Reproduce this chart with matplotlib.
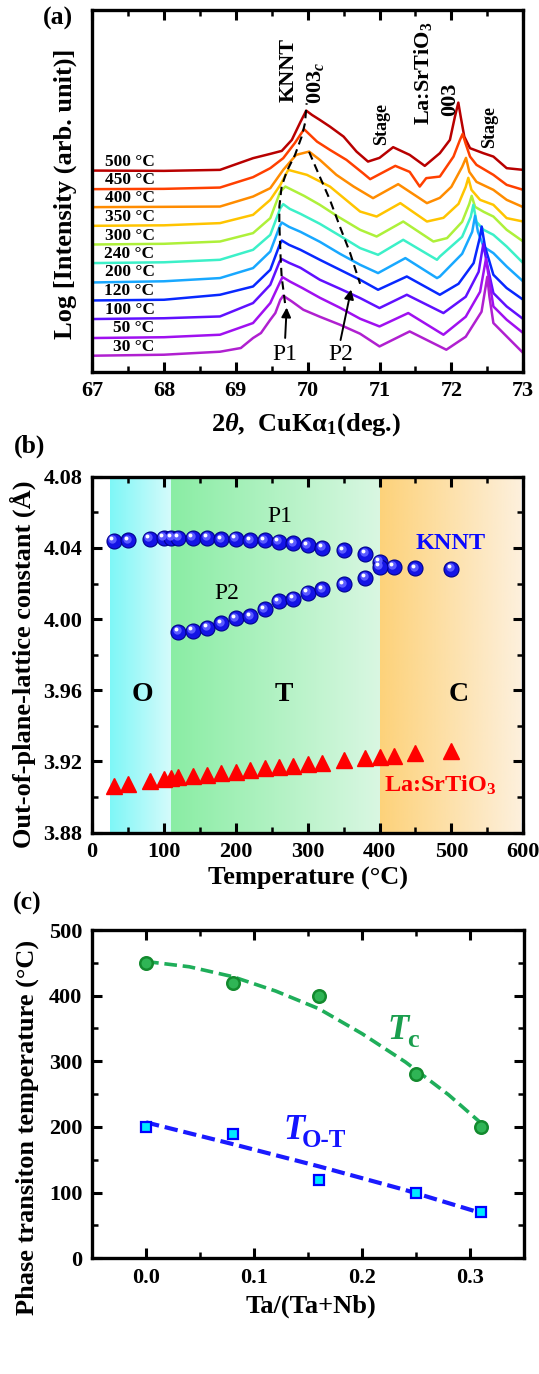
import numpy as np
import matplotlib
matplotlib.use('Agg')
import matplotlib.pyplot as plt
from matplotlib.colors import LinearSegmentedColormap
from matplotlib.transforms import offset_copy
from matplotlib.ticker import MultipleLocator

plt.rcParams['font.family'] = ['Liberation Serif', 'DejaVu Serif']
plt.rcParams['font.weight'] = 'bold'
plt.rcParams['axes.labelweight'] = 'bold'
plt.rcParams['mathtext.fontset'] = 'custom'
plt.rcParams['mathtext.rm'] = 'Liberation Serif:bold'
plt.rcParams['mathtext.it'] = 'Liberation Serif:italic:bold'
plt.rcParams['mathtext.bf'] = 'Liberation Serif:bold'

# ---------------- (a) XRD scans ----------------
temps_a = ['500 °C', '450 °C', '400 °C', '350 °C', '300 °C', '240 °C',
           '200 °C', '120 °C', '100 °C', '50 °C', '30 °C']
colors_a = ['#b80000', '#ff4000', '#ff8c00', '#ffc400', '#aef03a', '#3cf0c8',
            '#18a8ff', '#0828ff', '#6010ff', '#a010f0', '#b020d0']

tth_500 = [67.0, 68.0, 68.78, 69.24, 69.48, 69.64, 69.78, 69.9, 69.98, 70.06, 70.17, 70.31, 70.5, 70.68, 70.84,
           71.0, 71.19, 71.42, 71.63, 71.84, 71.98, 72.05, 72.097, 72.13, 72.18, 72.26, 72.445, 72.585, 72.77, 73.0]
int_500 = [201.3, 201, 202, 213.7, 218, 221, 232, 250, 261.3, 257, 252, 245.3, 235.3, 220.3, 210.3,
           214, 224.7, 217, 206, 218.7, 232, 255.3, 269.3, 255.3, 235.3, 223.7, 218.7, 215.3, 203.7, 202]

tth_450 = [67.0, 68.0, 68.78, 69.24, 69.48, 69.66, 69.82, 69.95, 70.13, 70.31, 70.54, 70.77, 70.87,
           71.22, 71.42, 71.56, 71.65, 71.84, 72.03, 72.12, 72.157, 72.2, 72.26, 72.35, 72.585, 72.77, 73.0]
int_450 = [182.7, 183, 184.3, 194.7, 203.7, 213.7, 228.7, 242.7, 230.3, 222, 212, 198.7, 192.7,
           206, 200, 185.3, 193.7, 195.3, 215.3, 232, 238, 228, 215.3, 207, 197, 187, 182]

tth_400 = [67.0, 68.0, 68.78, 69.24, 69.48, 69.66, 69.84, 70.02, 70.17, 70.4, 70.64, 70.91,
           71.26, 71.66, 71.84, 72.0, 72.15, 72.204, 72.25, 72.35, 72.585, 72.77, 73.0]
int_400 = [164.7, 165, 165.3, 175.3, 183.7, 202, 217, 220.3, 212, 197, 185.3, 173.7,
           187.7, 168.7, 174, 185, 205, 214, 200, 190, 182, 172, 164.7]

tth_350 = [67.0, 68.0, 68.78, 69.24, 69.48, 69.62, 69.73, 69.99, 70.31, 70.73, 70.96,
           71.29, 71.66, 71.89, 72.1, 72.2, 72.236, 72.28, 72.4, 72.585, 72.77, 73.0]
int_350 = [146, 146.5, 148.7, 157, 172, 187, 202, 197, 185.3, 160.3, 155.3,
           168.7, 150.3, 154, 168, 185, 194, 182, 172, 167, 153.7, 150.3]

tth_300 = [67.0, 68.0, 68.78, 69.24, 69.48, 69.62, 69.69, 69.95, 70.17, 70.42, 70.73, 70.96,
           71.33, 71.75, 71.94, 72.15, 72.25, 72.283, 72.33, 72.45, 72.585, 72.77, 73.0]
int_300 = [127.3, 128, 130.3, 138.7, 153.7, 180.3, 185.3, 176, 167, 155.3, 142, 135.3,
           150.3, 130.3, 133.7, 150, 168, 176, 165, 160, 155.3, 142, 130.3]

tth_240 = [67.0, 68.0, 68.78, 69.24, 69.48, 69.62, 69.66, 69.75, 69.9, 70.17, 70.45, 70.73, 70.98,
           71.33, 71.8, 71.84, 72.15, 72.27, 72.306, 72.35, 72.45, 72.585, 72.77, 73.0]
int_240 = [108.7, 109.5, 112, 122, 137, 163.7, 167.7, 163, 158, 148, 136, 123.7, 117,
           132, 112, 115.3, 135, 155, 167, 150, 142, 137, 125.3, 108.7]

tth_200 = [67.0, 68.0, 68.78, 69.24, 69.48, 69.61, 69.64, 69.74, 69.9, 70.17, 70.45, 70.73, 70.98,
           71.36, 71.8, 71.84, 72.15, 72.29, 72.33, 72.37, 72.45, 72.585, 72.77, 73.0]
int_200 = [89.3, 90.5, 93.7, 103.7, 120.3, 145.3, 149.3, 145, 140, 130, 118, 107, 98.7,
           113.7, 93.7, 95.3, 118, 140, 156, 140, 125, 118.7, 105.3, 90.3]

tth_120 = [67.0, 68.0, 68.78, 69.24, 69.48, 69.61, 69.64, 69.74, 69.9, 70.17, 70.45, 70.73, 70.98,
           71.38, 71.84, 72.1, 72.31, 72.4, 72.422, 72.468, 72.585, 72.77, 73.0]
int_120 = [71.3, 72, 77, 85.3, 102, 127, 131.3, 127, 122, 112, 102, 92, 82,
           95.3, 77, 88, 108.7, 135.3, 145.3, 125.3, 97, 83.7, 72]

tth_100 = [67.0, 68.0, 68.78, 69.24, 69.48, 69.61, 69.64, 69.74, 69.9, 70.17, 70.45, 70.73, 71.0,
           71.38, 71.89, 72.2, 72.38, 72.445, 72.49, 72.585, 72.77, 73.0]
int_100 = [52.7, 53.5, 55.3, 68.7, 87, 110.3, 112.7, 109, 104, 92, 83, 73.7, 63.7,
           77, 58.7, 75, 100, 128, 110, 78.7, 65.3, 52.7]

tth_50 = [67.0, 68.0, 68.78, 69.24, 69.48, 69.62, 69.65, 69.76, 69.92, 70.17, 70.45, 70.73, 71.0,
          71.4, 71.89, 72.2, 72.4, 72.482, 72.52, 72.585, 72.77, 73.0]
int_50 = [33.7, 34.5, 37, 48.7, 68.7, 90.3, 94.7, 90, 84, 74, 64, 53, 45.3,
          58.7, 37, 55, 80, 113, 95, 65.3, 52, 38.7]

tth_30 = [67.0, 68.0, 68.78, 69.07, 69.24, 69.35, 69.48, 69.55, 69.62, 69.66, 69.78, 69.94, 70.17, 70.45,
          70.73, 71.0, 71.42, 71.93, 72.2, 72.42, 72.5, 72.53, 72.585, 72.77, 73.0]
int_30 = [16, 17, 20, 23.7, 33.7, 38.7, 52, 58.7, 72, 76, 70.3, 62, 55, 47,
          38, 25.3, 40.3, 22, 35, 60, 95, 75, 48.7, 35.3, 18.7]

scans_tth = [tth_500, tth_450, tth_400, tth_350, tth_300, tth_240,
             tth_200, tth_120, tth_100, tth_50, tth_30]
scans_int = [int_500, int_450, int_400, int_350, int_300, int_240,
             int_200, int_120, int_100, int_50, int_30]
label_int = [209.7, 192, 173.7, 154.7, 136.3, 118, 99.3, 80.3, 62, 43.7, 24.7]

# dashed guides through P1 and P2
p1_tth = [69.685, 69.638, 69.624, 69.615, 69.606, 69.606, 69.638, 69.708, 69.824, 69.917, 69.963, 69.986]
p1_int = [68.7, 95.3, 113.7, 130.3, 148.7, 165.3, 185.3, 200.3, 217, 235.3, 248.7, 268.7]
p2_tth = [70.02, 70.17, 70.31, 70.45, 70.59, 70.73]
p2_int = [220, 195, 172, 145, 119, 88]

# ---------------- (b) lattice constants ----------------
temp_p1 = [30, 50, 80, 100, 110, 120, 140, 160, 180, 200, 220, 240, 260, 280, 300, 320,
           350, 380, 400, 420, 450, 500]
knnt_p1 = [4.0441, 4.0444, 4.0452, 4.0456, 4.0457, 4.0457, 4.0456, 4.0457, 4.0450, 4.0452,
           4.0444, 4.0444, 4.0435, 4.0426, 4.0416, 4.0401, 4.0386, 4.0368, 4.0321, 4.0295,
           4.0287, 4.0283]
temp_p2 = [120, 140, 160, 180, 200, 220, 240, 260, 280, 300, 320, 350, 380, 400]
knnt_p2 = [3.9928, 3.9935, 3.9950, 3.9976, 4.0006, 4.0017, 4.0055, 4.0100, 4.0115, 4.0148,
           4.0167, 4.0197, 4.0231, 4.0295]
temp_sto = temp_p1
sto = [3.9062, 3.9072, 3.9092, 3.9104, 3.9107, 3.9111, 3.9119, 3.9126, 3.9134, 3.9143,
       3.9152, 3.9162, 3.9171, 3.9177, 3.9186, 3.9193, 3.9208, 3.9222, 3.9227, 3.9233,
       3.9246, 3.9259]
phase_bounds = [25, 110, 400, 595]

# ---------------- (c) transition temperatures ----------------
ta_ratio = [0.0, 0.08, 0.16, 0.25, 0.31]
t_c = [450, 420, 400, 280, 200]
t_ot = [200, 190, 120, 100, 70]
tc_fit_x = [0.0, 0.04, 0.08, 0.12, 0.16, 0.20, 0.24, 0.28, 0.31]
tc_fit_y = [452, 444, 429, 407, 380, 342, 299, 249, 206]
tot_fit_x = [0.0, 0.08, 0.16, 0.24, 0.31]
tot_fit_y = [207, 174, 140, 104, 69]

FS = 16      # tick labels
LFS = 19     # axis labels
W, H = 539, 1374
fig = plt.figure(figsize=(W / 100, H / 100), dpi=100)


def add_axes(left, top, right, bottom):
    return fig.add_axes([left / W, 1 - bottom / H, (right - left) / W, (bottom - top) / H])


def style(ax, left_right=True):
    for s in ax.spines.values():
        s.set_linewidth(2.4)
    ax.tick_params(which='both', direction='in', top=True, right=left_right,
                   labelsize=FS, pad=7)
    ax.tick_params(which='major', length=7, width=2.2)
    ax.tick_params(which='minor', length=4, width=1.8)


# ---- panel a
axa = add_axes(92.1, 10, 523.2, 371.7)
for tt, ii, c in zip(scans_tth, scans_int, colors_a):
    axa.plot(tt, ii, color=c, lw=1.8)
axa.plot(p1_tth, p1_int, color='k', lw=1.5, ls=(0, (4, 2.5)))
axa.plot(p2_tth, p2_int, color='k', lw=1.5, ls=(0, (4, 2.5)))
for lab, yy in zip(temps_a, label_int):
    axa.text(67.87, yy, lab, ha='right', va='center', fontsize=12.5)
axa.annotate('', xy=(69.71, 67), xytext=(69.685, 31),
             arrowprops=dict(arrowstyle='-|>', color='k', lw=1.4, mutation_scale=14))
axa.annotate('', xy=(70.613, 85), xytext=(70.45, 29),
             arrowprops=dict(arrowstyle='-|>', color='k', lw=1.4, mutation_scale=14))
axa.text(69.68, 17, 'P1', ha='center', va='center', fontsize=17, fontweight='normal')
axa.text(70.455, 17, 'P2', ha='center', va='center', fontsize=17, fontweight='normal')
axa.text(69.737, 302, 'KNNT', rotation=90, ha='center', va='center', fontsize=16)
axa.text(70.11, 289.5, r'003$_{c}$', rotation=90, ha='center', va='center', fontsize=16)
axa.text(71.03, 247.8, 'Stage', rotation=90, ha='center', va='center', fontsize=13)
axa.text(71.605, 298.7, r'La:SrTiO$_3$', rotation=90, ha='center', va='center', fontsize=16)
axa.text(71.977, 272.8, '003', rotation=90, ha='center', va='center', fontsize=16)
axa.text(72.536, 244.5, 'Stage', rotation=90, ha='center', va='center', fontsize=13)
axa.set_xlim(67, 73)
axa.set_ylim(0, 362)
axa.xaxis.set_major_locator(MultipleLocator(1))
axa.xaxis.set_minor_locator(MultipleLocator(0.5))
axa.set_yticks([])
style(axa, left_right=False)
axa.set_xlabel(r'2$\theta$,  CuK$\mathrm{\alpha}_1$(deg.)', fontsize=LFS)
axa.xaxis.set_label_coords(0.496, -0.108)
axa.set_ylabel('Log [Intensity (arb. unit)]', fontsize=LFS)
axa.yaxis.set_label_coords(-0.034, 0.491)

# ---- panel b
axb = add_axes(92.1, 476.7, 523.2, 832.7)
band_cols = [('#7ef7f7', '#d6fbfb'), ('#8aeda4', '#d9f7e2'), ('#fdd27a', '#fdf0dc')]
grad = np.linspace(0, 1, 256).reshape(1, -1)
for (c0, c1), x0, x1 in zip(band_cols, phase_bounds[:-1], phase_bounds[1:]):
    cm = LinearSegmentedColormap.from_list('band', [c0, c1])
    axb.imshow(grad, cmap=cm, extent=(x0, x1, 3.88, 4.08), aspect='auto', zorder=0)


def spheres(ax, x, y):
    ax.plot(x, y, 'o', ms=10.8, mfc='#1414e6', mec='#00008c', mew=0.8, ls='none', zorder=3)
    t1 = offset_copy(ax.transData, fig=fig, x=-1.5, y=1.5, units='dots')
    ax.plot(x, y, 'o', ms=6, mfc='#5a5aff', mec='none', ls='none', zorder=4, transform=t1)
    t2 = offset_copy(ax.transData, fig=fig, x=-2.5, y=2.5, units='dots')
    ax.plot(x, y, 'o', ms=2.8, mfc='white', mec='none', ls='none', zorder=5, transform=t2)


spheres(axb, temp_p1, knnt_p1)
spheres(axb, temp_p2, knnt_p2)
axb.plot(temp_sto, sto, '^', ms=12, color='#ff0000', ls='none', zorder=3)
axb.text(262, 4.0575, 'P1', ha='center', va='center', fontsize=17, fontweight='normal')
axb.text(187, 4.0145, 'P2', ha='center', va='center', fontsize=17, fontweight='normal')
axb.text(498.6, 4.0426, 'KNNT', color='#0a0aff', ha='center', va='center', fontsize=17.5)
axb.text(70.4, 3.9574, 'O', ha='center', va='center', fontsize=20)
axb.text(266.5, 3.9574, 'T', ha='center', va='center', fontsize=20)
axb.text(510.5, 3.9574, 'C', ha='center', va='center', fontsize=20)
axb.text(484.2, 3.9068, r'La:SrTiO$_3$', color='#ff0000', ha='center', va='center', fontsize=17.5)
axb.set_xlim(0, 600)
axb.set_ylim(3.88, 4.08)
axb.xaxis.set_major_locator(MultipleLocator(100))
axb.xaxis.set_minor_locator(MultipleLocator(50))
axb.yaxis.set_major_locator(MultipleLocator(0.04))
axb.yaxis.set_minor_locator(MultipleLocator(0.02))
axb.yaxis.set_major_formatter(plt.FormatStrFormatter('%.2f'))
style(axb)
axb.set_xlabel('Temperature (°C)', fontsize=LFS)
axb.xaxis.set_label_coords(0.5, -0.095)
axb.set_ylabel('Out-of-plane-lattice constant (Å)', fontsize=LFS)
axb.yaxis.set_label_coords(-0.131, 0.474)

# ---- panel c
axc = add_axes(92.1, 930, 524.2, 1258.3)
axc.plot(tc_fit_x, tc_fit_y, color='#1fae5a', lw=2.6, ls=(0, (3.5, 1.6)), zorder=2)
axc.plot(tot_fit_x, tot_fit_y, color='#1a1aff', lw=3, ls=(0, (3.2, 1.4)), zorder=2)
axc.plot(ta_ratio, t_c, 'o', ms=9, mfc='#2fb555', mec='#138a2e', mew=1.8, ls='none', zorder=3)
axc.plot(ta_ratio, t_ot, 's', ms=7, mfc='#00e8ff', mec='#0000ff', mew=1.6, ls='none', zorder=3)
axc.text(0.2334, 346.9, 'T', color='#1a9e4e', style='italic', ha='center', va='center', fontsize=25)
axc.text(0.2470, 331.4, 'c', color='#1a9e4e', ha='center', va='center', fontsize=19)
axc.text(0.1366, 195.4, 'T', color='#1414ff', style='italic', ha='center', va='center', fontsize=25)
axc.text(0.1645, 180, 'O-T', color='#1414ff', ha='center', va='center', fontsize=18)
axc.set_xlim(-0.05, 0.35)
axc.set_ylim(0, 500)
axc.xaxis.set_major_locator(MultipleLocator(0.1))
axc.xaxis.set_minor_locator(MultipleLocator(0.05))
axc.yaxis.set_major_locator(MultipleLocator(100))
axc.yaxis.set_minor_locator(MultipleLocator(50))
axc.xaxis.set_major_formatter(plt.FormatStrFormatter('%.1f'))
style(axc)
axc.set_xlabel('Ta/(Ta+Nb)', fontsize=LFS)
axc.xaxis.set_label_coords(0.507, -0.110)
axc.set_ylabel('Phase transiton temperature (°C)', fontsize=LFS)
axc.yaxis.set_label_coords(-0.123, 0.40)

fig.text(58.4 / W, 1 - 18.3 / H, '(a)', ha='center', va='center', fontsize=18.5)
fig.text(29.2 / W, 1 - 446.7 / H, '(b)', ha='center', va='center', fontsize=18.5)
fig.text(27.5 / W, 1 - 903.3 / H, '(c)', ha='center', va='center', fontsize=18.5)

fig.savefig('out.png', dpi=100)
